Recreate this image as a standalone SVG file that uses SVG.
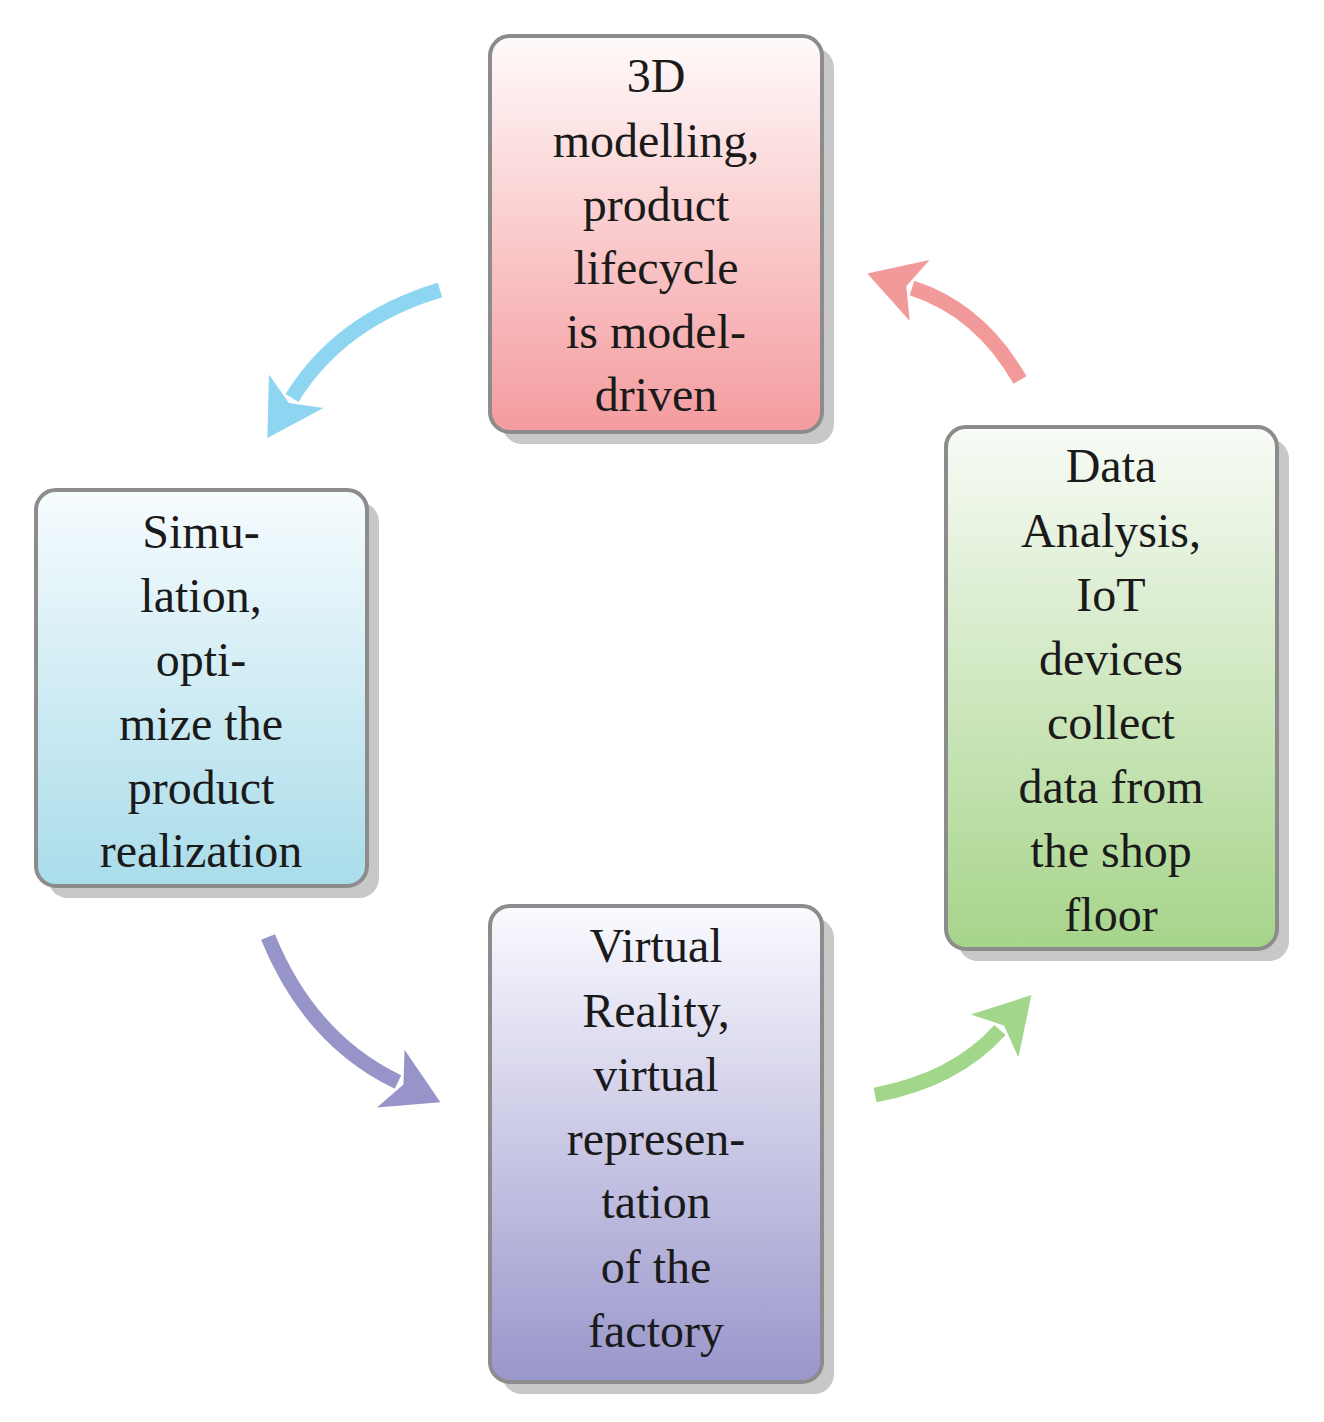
<svg xmlns="http://www.w3.org/2000/svg" width="1324" height="1422" viewBox="0 0 1324 1422">
<style>
.box{stroke:#8c8c8c;stroke-width:4}
.sh{fill:#c8c8c8}
text{font-family:"Liberation Serif",serif;font-size:48px;fill:#1a1a1a;text-anchor:middle}
.arr{fill:none;stroke-width:15}
</style>
<defs>
<linearGradient id="gr" x1="0" y1="0" x2="0" y2="1"><stop offset="0" stop-color="#fffafa"/><stop offset="1" stop-color="#f49b9e"/></linearGradient>
<linearGradient id="gb" x1="0" y1="0" x2="0" y2="1"><stop offset="0" stop-color="#f7fcfe"/><stop offset="1" stop-color="#a9dcea"/></linearGradient>
<linearGradient id="gp" x1="0" y1="0" x2="0" y2="1"><stop offset="0" stop-color="#fafaff"/><stop offset="1" stop-color="#9996cb"/></linearGradient>
<linearGradient id="gg" x1="0" y1="0" x2="0" y2="1"><stop offset="0" stop-color="#f8fbf6"/><stop offset="1" stop-color="#a6d48a"/></linearGradient>
<marker id="mb" markerUnits="userSpaceOnUse" markerWidth="80" markerHeight="80" viewBox="0 -40 70 80" refX="8" refY="0" orient="auto"><path d="M0,-32 L55,0 L0,32 L14,0Z" fill="#8ed5f2"/></marker>
<marker id="mp" markerUnits="userSpaceOnUse" markerWidth="80" markerHeight="80" viewBox="0 -40 70 80" refX="8" refY="0" orient="auto"><path d="M0,-32 L55,0 L0,32 L14,0Z" fill="#9694c8"/></marker>
<marker id="mg" markerUnits="userSpaceOnUse" markerWidth="80" markerHeight="80" viewBox="0 -40 70 80" refX="8" refY="0" orient="auto"><path d="M0,-32 L55,0 L0,32 L14,0Z" fill="#a2d68a"/></marker>
<marker id="mr" markerUnits="userSpaceOnUse" markerWidth="80" markerHeight="80" viewBox="0 -40 70 80" refX="8" refY="0" orient="auto"><path d="M0,-32 L55,0 L0,32 L14,0Z" fill="#f29a9a"/></marker>
</defs>
<g id="connectors">
<path class="arr" stroke="#8ed5f2" marker-end="url(#mb)" d="M440,290 Q340,320 292,398"/>
<path class="arr" stroke="#9694c8" marker-end="url(#mp)" d="M268,937 Q310,1040 398,1082"/>
<path class="arr" stroke="#a2d68a" marker-end="url(#mg)" d="M875,1095 Q955,1080 1000,1030"/>
<path class="arr" stroke="#f29a9a" marker-end="url(#mr)" d="M1020,380 Q980,310 912,288"/>
</g>
<g id="n1">
<rect class="sh" x="502" y="48" width="332" height="396" rx="20"/>
<rect class="box" x="490" y="36" width="332" height="396" rx="20" fill="url(#gr)"/>
<text x="656" y="92">3D</text><text x="656" y="157">modelling,</text><text x="656" y="221">product</text><text x="656" y="284">lifecycle</text><text x="656" y="348">is model-</text><text x="656" y="411">driven</text>
</g>
<g id="n2">
<rect class="sh" x="48" y="502" width="331" height="396" rx="20"/>
<rect class="box" x="36" y="490" width="331" height="396" rx="20" fill="url(#gb)"/>
<text x="201" y="548">Simu-</text><text x="201" y="612">lation,</text><text x="201" y="676">opti-</text><text x="201" y="740">mize the</text><text x="201" y="804">product</text><text x="201" y="867">realization</text>
</g>
<g id="n3">
<rect class="sh" x="502" y="918" width="332" height="476" rx="20"/>
<rect class="box" x="490" y="906" width="332" height="476" rx="20" fill="url(#gp)"/>
<text x="656" y="962">Virtual</text><text x="656" y="1027">Reality,</text><text x="656" y="1091">virtual</text><text x="656" y="1155">represen-</text><text x="656" y="1218">tation</text><text x="656" y="1283">of the</text><text x="656" y="1347">factory</text>
</g>
<g id="n4">
<rect class="sh" x="958" y="439" width="331" height="522" rx="20"/>
<rect class="box" x="946" y="427" width="331" height="522" rx="20" fill="url(#gg)"/>
<text x="1111" y="482">Data</text><text x="1111" y="547">Analysis,</text><text x="1111" y="611">IoT</text><text x="1111" y="675">devices</text><text x="1111" y="739">collect</text><text x="1111" y="803">data from</text><text x="1111" y="867">the shop</text><text x="1111" y="931">floor</text>
</g>
</svg>
